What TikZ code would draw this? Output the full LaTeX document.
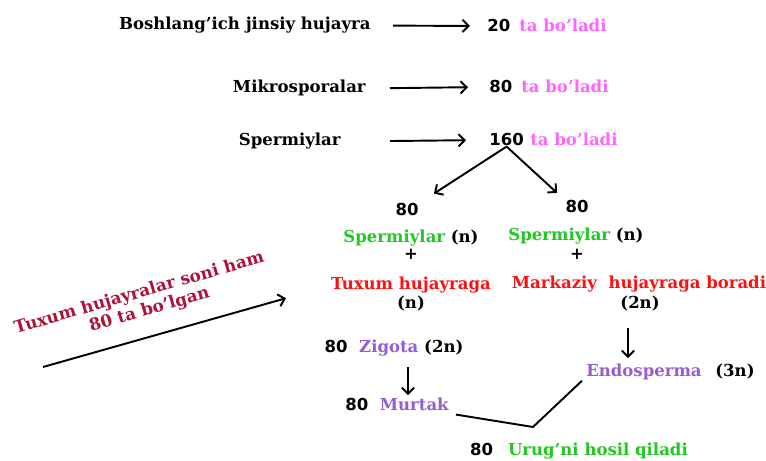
\documentclass[tikz,border=0pt]{standalone}
\usepackage{fontspec}
\setmainfont{DejaVu Serif}
\newfontfamily\numfont{DejaVu Sans}
\usetikzlibrary{arrows.meta}

\definecolor{countpink}{RGB}{255,102,255}
\definecolor{spermgreen}{RGB}{34,200,34}
\definecolor{eggred}{RGB}{255,16,16}
\definecolor{zygviolet}{RGB}{152,92,210}
\definecolor{wine}{RGB}{172,18,58}

\newcommand{\amount}[1]{{\numfont #1}}

\begin{document}
\begin{tikzpicture}[
  every node/.style={inner sep=0pt, font=\bfseries\fontsize{9.4}{11}\selectfont},
  lbl/.style={anchor=base east},
  cnt/.style={anchor=base west},
  mid/.style={anchor=base},
  arr/.style={line width=1.1pt, -{Straight Barb[length=3.5pt,width=7pt]}},
  wire/.style={line width=1.1pt}
]
\useasboundingbox (0,0) rectangle (15.32,-9.22);

% Counting rows
\node[lbl] (bosh) at (7.42,-0.60) {Boshlang’ich jinsiy hujayra};
\node[cnt] (c20) at (9.74,-0.64) {\amount{20}};
\node[cnt, countpink] (t20) at (10.38,-0.64) {ta bo’ladi};

\node[lbl] (mik) at (7.32,-1.86) {Mikrosporalar};
\node[cnt] (c80) at (9.78,-1.86) {\amount{80}};
\node[cnt, countpink] (t80) at (10.42,-1.86) {ta bo’ladi};

\node[lbl] (sp) at (6.82,-2.92) {Spermiylar};
\node[cnt] (c160) at (9.78,-2.92) {\amount{160}};
\node[cnt, countpink] (t160) at (10.60,-2.92) {ta bo’ladi};

\draw[arr, shorten <=0.44cm, shorten >=0.34cm] (bosh.east) -- (c20.west);
\draw[arr, shorten <=0.48cm, shorten >=0.42cm] (mik.east) -- (c80.west);
\draw[arr, shorten <=0.98cm, shorten >=0.46cm] (sp.east) -- (c160.west);

% Left branch: egg cell
\node[mid] (s80L) at (8.14,-4.32) {\amount{80}};
\node[mid] (spL) at (8.22,-4.86) {\textcolor{spermgreen}{Spermiylar} (n)};
\node[mid] (plusL) at (8.22,-5.20) {+};
\node[mid, eggred] (tuxL) at (8.22,-5.80) {Tuxum hujayraga};
\node[mid] (nL) at (8.22,-6.18) {(n)};

% Right branch: central cell
\node[mid] (s80R) at (11.54,-4.26) {\amount{80}};
\node[mid] (spR) at (11.52,-4.82) {\textcolor{spermgreen}{Spermiylar} (n)};
\node[mid] (plusR) at (11.54,-5.20) {+};
\node[mid, eggred] (markR) at (12.78,-5.78) {Markaziy\ \ hujayraga boradi};
\node[mid] (nR) at (12.80,-6.18) {(2n)};

\draw[arr, shorten >=0.36cm] (c160.south) -- (s80L.north east);
\draw[arr, shorten >=0.22cm] (c160.south) -- (s80R.north west);

% Zygote, embryo, endosperm
\node[mid] (zrow) at (7.88,-7.06) {\amount{80}\hspace{0.7em}\textcolor{zygviolet}{Zigota} (2n)};
\node[mid] (mrow) at (7.94,-8.22) {\amount{80}\hspace{0.7em}\textcolor{zygviolet}{Murtak}};
\node[mid, zygviolet] (endo) at (12.88,-7.54) {Endosperma};
\node[mid] (e3n) at (14.70,-7.54) {(3n)};
\node[mid] (urow) at (11.58,-9.12) {\amount{80}\hspace{0.9em}\textcolor{spermgreen}{Urug’ni hosil qiladi}};

\draw[arr, shorten <=0.2cm, shorten >=0.06cm] ([xshift=0.28cm]zrow.south) -- ([xshift=0.22cm]mrow.north);
\draw[arr, shorten <=0.32cm, shorten >=0.12cm] ([xshift=-0.24cm]nR.south) -- ([xshift=-0.32cm]endo.north);

% Seed joins embryo and endosperm
\coordinate (seed) at (10.66,-8.54);
\draw[wire] ([xshift=0.14cm, yshift=-0.06cm]mrow.south east) -- (seed) -- ([xshift=-0.08cm]endo.south west);

% Note on egg cells
\node[wine, rotate=16, align=center, font=\bfseries\fontsize{9.6}{10.8}\selectfont] (note) at (2.84,-6.05)
  {Tuxum hujayralar soni ham\\ \hspace{0.6em}80 ta bo’lgan};
\coordinate (eggs) at (0.86,-7.34);
\draw[arr, shorten >=0.93cm] (eggs) -- (tuxL.west);

\end{tikzpicture}
\end{document}
